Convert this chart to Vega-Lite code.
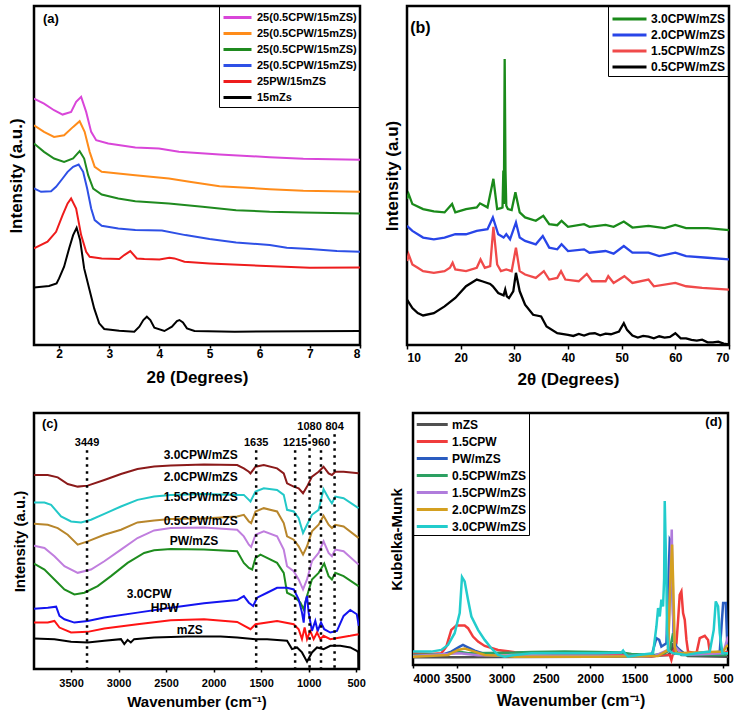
{
"$schema":"https://vega.github.io/schema/vega-lite/v6.json",
"padding":{"left":5,"top":4,"right":0,"bottom":0},
"background":"white",
"resolve":{"scale":{"color":"independent"},"legend":{"color":"independent"}},
"config":{
 "font":"Liberation Sans",
 "view":{"stroke":"#000","strokeWidth":2.5},
 "axis":{"domain":false,"grid":false,"labelFontWeight":"bold","titleFontWeight":"bold","labelColor":"#000","titleColor":"#000","tickColor":"#000","tickWidth":1.5,"labelFont":"Liberation Sans","titleFont":"Liberation Sans"},
 "legend":{"labelFontWeight":"bold","labelColor":"#000","strokeColor":"#000","symbolStrokeWidth":3,"labelFont":"Liberation Sans"}
},
"datasets":{
"a":[
{"s":"k","x":1.5,"y":173},{"s":"k","x":1.8,"y":177},{"s":"k","x":1.95,"y":185},{"s":"k","x":2.0,"y":200},{"s":"k","x":2.1,"y":235},{"s":"k","x":2.2,"y":290},{"s":"k","x":2.28,"y":330},{"s":"k","x":2.35,"y":352},{"s":"k","x":2.42,"y":315},{"s":"k","x":2.5,"y":230},{"s":"k","x":2.6,"y":170},{"s":"k","x":2.7,"y":110},{"s":"k","x":2.8,"y":65},{"s":"k","x":2.9,"y":48},{"s":"k","x":3.2,"y":43},{"s":"k","x":3.5,"y":40},{"s":"k","x":3.6,"y":55},{"s":"k","x":3.68,"y":75},{"s":"k","x":3.75,"y":85},{"s":"k","x":3.82,"y":75},{"s":"k","x":3.9,"y":52},{"s":"k","x":4.1,"y":42},{"s":"k","x":4.25,"y":55},{"s":"k","x":4.35,"y":72},{"s":"k","x":4.4,"y":75},{"s":"k","x":4.47,"y":68},{"s":"k","x":4.55,"y":50},{"s":"k","x":4.7,"y":42},{"s":"k","x":5.5,"y":40},{"s":"k","x":8.0,"y":42},
{"s":"r","x":1.5,"y":290},{"s":"r","x":1.77,"y":310},{"s":"r","x":1.94,"y":340},{"s":"r","x":2.07,"y":390},{"s":"r","x":2.17,"y":425},{"s":"r","x":2.24,"y":440},{"s":"r","x":2.34,"y":410},{"s":"r","x":2.44,"y":330},{"s":"r","x":2.54,"y":280},{"s":"r","x":2.61,"y":265},{"s":"r","x":2.85,"y":260},{"s":"r","x":3.2,"y":258},{"s":"r","x":3.3,"y":270},{"s":"r","x":3.42,"y":282},{"s":"r","x":3.55,"y":260},{"s":"r","x":3.7,"y":258},{"s":"r","x":4.0,"y":257},{"s":"r","x":4.2,"y":262},{"s":"r","x":4.3,"y":260},{"s":"r","x":4.5,"y":250},{"s":"r","x":5.0,"y":245},{"s":"r","x":6.0,"y":238},{"s":"r","x":7.0,"y":232},{"s":"r","x":8.0,"y":233},
{"s":"b","x":1.5,"y":470},{"s":"b","x":1.64,"y":460},{"s":"b","x":1.84,"y":462},{"s":"b","x":1.94,"y":475},{"s":"b","x":2.07,"y":500},{"s":"b","x":2.17,"y":520},{"s":"b","x":2.28,"y":535},{"s":"b","x":2.39,"y":542},{"s":"b","x":2.48,"y":520},{"s":"b","x":2.56,"y":470},{"s":"b","x":2.64,"y":410},{"s":"b","x":2.71,"y":375},{"s":"b","x":2.85,"y":358},{"s":"b","x":3.18,"y":350},{"s":"b","x":3.52,"y":345},{"s":"b","x":4.05,"y":344},{"s":"b","x":4.52,"y":330},{"s":"b","x":5.0,"y":318},{"s":"b","x":5.53,"y":308},{"s":"b","x":6.2,"y":300},{"s":"b","x":6.54,"y":292},{"s":"b","x":7.0,"y":288},{"s":"b","x":7.54,"y":282},{"s":"b","x":8.0,"y":280},
{"s":"g","x":1.5,"y":605},{"s":"g","x":1.7,"y":580},{"s":"g","x":1.9,"y":560},{"s":"g","x":2.1,"y":550},{"s":"g","x":2.28,"y":560},{"s":"g","x":2.41,"y":582},{"s":"g","x":2.5,"y":560},{"s":"g","x":2.58,"y":510},{"s":"g","x":2.68,"y":470},{"s":"g","x":2.85,"y":452},{"s":"g","x":3.18,"y":440},{"s":"g","x":3.52,"y":432},{"s":"g","x":4.19,"y":425},{"s":"g","x":4.86,"y":415},{"s":"g","x":5.53,"y":405},{"s":"g","x":6.2,"y":400},{"s":"g","x":6.87,"y":398},{"s":"g","x":8.0,"y":395},
{"s":"o","x":1.5,"y":660},{"s":"o","x":1.7,"y":640},{"s":"o","x":1.9,"y":625},{"s":"o","x":2.1,"y":630},{"s":"o","x":2.28,"y":655},{"s":"o","x":2.41,"y":672},{"s":"o","x":2.51,"y":640},{"s":"o","x":2.61,"y":580},{"s":"o","x":2.71,"y":535},{"s":"o","x":2.85,"y":520},{"s":"o","x":3.18,"y":515},{"s":"o","x":3.52,"y":510},{"s":"o","x":4.19,"y":500},{"s":"o","x":4.6,"y":490},{"s":"o","x":5.2,"y":477},{"s":"o","x":6.2,"y":468},{"s":"o","x":6.87,"y":463},{"s":"o","x":8.0,"y":460},
{"s":"m","x":1.5,"y":740},{"s":"m","x":1.7,"y":725},{"s":"m","x":1.9,"y":705},{"s":"m","x":2.07,"y":692},{"s":"m","x":2.24,"y":700},{"s":"m","x":2.34,"y":730},{"s":"m","x":2.44,"y":745},{"s":"m","x":2.54,"y":700},{"s":"m","x":2.64,"y":640},{"s":"m","x":2.74,"y":615},{"s":"m","x":2.98,"y":605},{"s":"m","x":3.52,"y":593},{"s":"m","x":3.99,"y":590},{"s":"m","x":4.39,"y":580},{"s":"m","x":5.2,"y":572},{"s":"m","x":6.2,"y":564},{"s":"m","x":6.87,"y":559},{"s":"m","x":8.0,"y":556}
],
"b":[
{"s":"0.5CPW/mZS","x":10,"y":135},{"s":"0.5CPW/mZS","x":11,"y":110},{"s":"0.5CPW/mZS","x":12,"y":95},{"s":"0.5CPW/mZS","x":13,"y":88},{"s":"0.5CPW/mZS","x":15,"y":95},{"s":"0.5CPW/mZS","x":17,"y":115},{"s":"0.5CPW/mZS","x":19,"y":140},{"s":"0.5CPW/mZS","x":21,"y":175},{"s":"0.5CPW/mZS","x":23,"y":195},{"s":"0.5CPW/mZS","x":24,"y":190},{"s":"0.5CPW/mZS","x":25.5,"y":182},{"s":"0.5CPW/mZS","x":26,"y":175},{"s":"0.5CPW/mZS","x":27,"y":155},{"s":"0.5CPW/mZS","x":28,"y":148},{"s":"0.5CPW/mZS","x":28.3,"y":165},{"s":"0.5CPW/mZS","x":28.6,"y":145},{"s":"0.5CPW/mZS","x":29,"y":140},{"s":"0.5CPW/mZS","x":29.8,"y":160},{"s":"0.5CPW/mZS","x":30.3,"y":215},{"s":"0.5CPW/mZS","x":31,"y":160},{"s":"0.5CPW/mZS","x":32,"y":120},{"s":"0.5CPW/mZS","x":33.5,"y":90},{"s":"0.5CPW/mZS","x":35,"y":85},{"s":"0.5CPW/mZS","x":36,"y":55},{"s":"0.5CPW/mZS","x":38,"y":35},{"s":"0.5CPW/mZS","x":40,"y":30},{"s":"0.5CPW/mZS","x":41,"y":27},{"s":"0.5CPW/mZS","x":42,"y":33},{"s":"0.5CPW/mZS","x":43,"y":28},{"s":"0.5CPW/mZS","x":44,"y":34},{"s":"0.5CPW/mZS","x":45,"y":35},{"s":"0.5CPW/mZS","x":46,"y":29},{"s":"0.5CPW/mZS","x":47,"y":34},{"s":"0.5CPW/mZS","x":48,"y":32},{"s":"0.5CPW/mZS","x":49.5,"y":40},{"s":"0.5CPW/mZS","x":50.4,"y":65},{"s":"0.5CPW/mZS","x":51,"y":45},{"s":"0.5CPW/mZS","x":52,"y":28},{"s":"0.5CPW/mZS","x":53,"y":22},{"s":"0.5CPW/mZS","x":54,"y":27},{"s":"0.5CPW/mZS","x":55,"y":25},{"s":"0.5CPW/mZS","x":56,"y":20},{"s":"0.5CPW/mZS","x":57,"y":26},{"s":"0.5CPW/mZS","x":58,"y":22},{"s":"0.5CPW/mZS","x":59,"y":24},{"s":"0.5CPW/mZS","x":60,"y":35},{"s":"0.5CPW/mZS","x":61,"y":20},{"s":"0.5CPW/mZS","x":62,"y":20},{"s":"0.5CPW/mZS","x":63,"y":15},{"s":"0.5CPW/mZS","x":64,"y":13},{"s":"0.5CPW/mZS","x":65,"y":16},{"s":"0.5CPW/mZS","x":66,"y":8},{"s":"0.5CPW/mZS","x":67,"y":8},{"s":"0.5CPW/mZS","x":68,"y":10},{"s":"0.5CPW/mZS","x":69,"y":4},{"s":"0.5CPW/mZS","x":70,"y":2},
{"s":"1.5CPW/mZS","x":10,"y":250},{"s":"1.5CPW/mZS","x":10.3,"y":270},{"s":"1.5CPW/mZS","x":11,"y":240},{"s":"1.5CPW/mZS","x":12,"y":230},{"s":"1.5CPW/mZS","x":13,"y":220},{"s":"1.5CPW/mZS","x":15,"y":215},{"s":"1.5CPW/mZS","x":17,"y":220},{"s":"1.5CPW/mZS","x":18,"y":230},{"s":"1.5CPW/mZS","x":18.5,"y":245},{"s":"1.5CPW/mZS","x":19,"y":225},{"s":"1.5CPW/mZS","x":21,"y":220},{"s":"1.5CPW/mZS","x":23,"y":230},{"s":"1.5CPW/mZS","x":23.7,"y":255},{"s":"1.5CPW/mZS","x":24.5,"y":230},{"s":"1.5CPW/mZS","x":25.5,"y":235},{"s":"1.5CPW/mZS","x":26.1,"y":352},{"s":"1.5CPW/mZS","x":26.8,"y":240},{"s":"1.5CPW/mZS","x":27.5,"y":220},{"s":"1.5CPW/mZS","x":28.5,"y":225},{"s":"1.5CPW/mZS","x":29.5,"y":220},{"s":"1.5CPW/mZS","x":30.3,"y":290},{"s":"1.5CPW/mZS","x":31,"y":220},{"s":"1.5CPW/mZS","x":32,"y":210},{"s":"1.5CPW/mZS","x":34,"y":200},{"s":"1.5CPW/mZS","x":35.5,"y":220},{"s":"1.5CPW/mZS","x":36.5,"y":195},{"s":"1.5CPW/mZS","x":38,"y":200},{"s":"1.5CPW/mZS","x":38.7,"y":220},{"s":"1.5CPW/mZS","x":39.5,"y":195},{"s":"1.5CPW/mZS","x":42,"y":190},{"s":"1.5CPW/mZS","x":43.5,"y":212},{"s":"1.5CPW/mZS","x":44.5,"y":190},{"s":"1.5CPW/mZS","x":47,"y":190},{"s":"1.5CPW/mZS","x":47.5,"y":205},{"s":"1.5CPW/mZS","x":48.5,"y":185},{"s":"1.5CPW/mZS","x":50.5,"y":205},{"s":"1.5CPW/mZS","x":52,"y":185},{"s":"1.5CPW/mZS","x":55,"y":195},{"s":"1.5CPW/mZS","x":56,"y":175},{"s":"1.5CPW/mZS","x":60,"y":185},{"s":"1.5CPW/mZS","x":62,"y":175},{"s":"1.5CPW/mZS","x":65,"y":170},{"s":"1.5CPW/mZS","x":70,"y":165},
{"s":"2.0CPW/mZS","x":10,"y":355},{"s":"2.0CPW/mZS","x":11,"y":340},{"s":"2.0CPW/mZS","x":13,"y":320},{"s":"2.0CPW/mZS","x":15,"y":315},{"s":"2.0CPW/mZS","x":17,"y":320},{"s":"2.0CPW/mZS","x":19,"y":330},{"s":"2.0CPW/mZS","x":21,"y":330},{"s":"2.0CPW/mZS","x":23,"y":340},{"s":"2.0CPW/mZS","x":25,"y":345},{"s":"2.0CPW/mZS","x":26,"y":380},{"s":"2.0CPW/mZS","x":27,"y":330},{"s":"2.0CPW/mZS","x":28,"y":320},{"s":"2.0CPW/mZS","x":28.5,"y":330},{"s":"2.0CPW/mZS","x":29.2,"y":315},{"s":"2.0CPW/mZS","x":30.3,"y":365},{"s":"2.0CPW/mZS","x":31,"y":320},{"s":"2.0CPW/mZS","x":32,"y":310},{"s":"2.0CPW/mZS","x":34,"y":300},{"s":"2.0CPW/mZS","x":35.3,"y":325},{"s":"2.0CPW/mZS","x":36.5,"y":290},{"s":"2.0CPW/mZS","x":38,"y":285},{"s":"2.0CPW/mZS","x":38.8,"y":300},{"s":"2.0CPW/mZS","x":40,"y":280},{"s":"2.0CPW/mZS","x":43,"y":285},{"s":"2.0CPW/mZS","x":44,"y":275},{"s":"2.0CPW/mZS","x":47,"y":280},{"s":"2.0CPW/mZS","x":48.5,"y":272},{"s":"2.0CPW/mZS","x":50.4,"y":295},{"s":"2.0CPW/mZS","x":52,"y":275},{"s":"2.0CPW/mZS","x":55,"y":275},{"s":"2.0CPW/mZS","x":57,"y":265},{"s":"2.0CPW/mZS","x":60,"y":275},{"s":"2.0CPW/mZS","x":62,"y":265},{"s":"2.0CPW/mZS","x":66,"y":260},{"s":"2.0CPW/mZS","x":70,"y":255},
{"s":"3.0CPW/mZS","x":10,"y":435},{"s":"3.0CPW/mZS","x":10.3,"y":450},{"s":"3.0CPW/mZS","x":11,"y":420},{"s":"3.0CPW/mZS","x":13,"y":405},{"s":"3.0CPW/mZS","x":15,"y":398},{"s":"3.0CPW/mZS","x":17,"y":395},{"s":"3.0CPW/mZS","x":18.4,"y":420},{"s":"3.0CPW/mZS","x":19,"y":395},{"s":"3.0CPW/mZS","x":21,"y":405},{"s":"3.0CPW/mZS","x":23,"y":410},{"s":"3.0CPW/mZS","x":23.6,"y":422},{"s":"3.0CPW/mZS","x":25,"y":410},{"s":"3.0CPW/mZS","x":26.1,"y":495},{"s":"3.0CPW/mZS","x":26.8,"y":405},{"s":"3.0CPW/mZS","x":27.5,"y":408},{"s":"3.0CPW/mZS","x":27.8,"y":410},{"s":"3.0CPW/mZS","x":27.95,"y":520},{"s":"3.0CPW/mZS","x":28.05,"y":420},{"s":"3.0CPW/mZS","x":28.2,"y":852},{"s":"3.0CPW/mZS","x":28.35,"y":520},{"s":"3.0CPW/mZS","x":28.5,"y":415},{"s":"3.0CPW/mZS","x":28.8,"y":405},{"s":"3.0CPW/mZS","x":29.5,"y":402},{"s":"3.0CPW/mZS","x":30.2,"y":455},{"s":"3.0CPW/mZS","x":31,"y":395},{"s":"3.0CPW/mZS","x":32,"y":380},{"s":"3.0CPW/mZS","x":34,"y":370},{"s":"3.0CPW/mZS","x":35.4,"y":385},{"s":"3.0CPW/mZS","x":36.5,"y":360},{"s":"3.0CPW/mZS","x":38,"y":357},{"s":"3.0CPW/mZS","x":38.8,"y":370},{"s":"3.0CPW/mZS","x":40,"y":352},{"s":"3.0CPW/mZS","x":43,"y":360},{"s":"3.0CPW/mZS","x":44,"y":352},{"s":"3.0CPW/mZS","x":47,"y":358},{"s":"3.0CPW/mZS","x":48.5,"y":352},{"s":"3.0CPW/mZS","x":50.4,"y":368},{"s":"3.0CPW/mZS","x":52,"y":350},{"s":"3.0CPW/mZS","x":55,"y":355},{"s":"3.0CPW/mZS","x":58,"y":348},{"s":"3.0CPW/mZS","x":60,"y":358},{"s":"3.0CPW/mZS","x":62,"y":348},{"s":"3.0CPW/mZS","x":66,"y":348},{"s":"3.0CPW/mZS","x":70,"y":342}
],
"c":[
{"s":"3.0CPW/mZS","x":3890,"y":585},{"s":"3.0CPW/mZS","x":3745,"y":585},{"s":"3.0CPW/mZS","x":3640,"y":578},{"s":"3.0CPW/mZS","x":3535,"y":558},{"s":"3.0CPW/mZS","x":3430,"y":550},{"s":"3.0CPW/mZS","x":3325,"y":553},{"s":"3.0CPW/mZS","x":3150,"y":570},{"s":"3.0CPW/mZS","x":2975,"y":588},{"s":"3.0CPW/mZS","x":2801,"y":603},{"s":"3.0CPW/mZS","x":2626,"y":611},{"s":"3.0CPW/mZS","x":2451,"y":614},{"s":"3.0CPW/mZS","x":2101,"y":617},{"s":"3.0CPW/mZS","x":1752,"y":615},{"s":"3.0CPW/mZS","x":1682,"y":605},{"s":"3.0CPW/mZS","x":1629,"y":595},{"s":"3.0CPW/mZS","x":1612,"y":590},{"s":"3.0CPW/mZS","x":1559,"y":610},{"s":"3.0CPW/mZS","x":1472,"y":615},{"s":"3.0CPW/mZS","x":1332,"y":605},{"s":"3.0CPW/mZS","x":1262,"y":590},{"s":"3.0CPW/mZS","x":1227,"y":560},{"s":"3.0CPW/mZS","x":1157,"y":550},{"s":"3.0CPW/mZS","x":1105,"y":545},{"s":"3.0CPW/mZS","x":1059,"y":530},{"s":"3.0CPW/mZS","x":1017,"y":550},{"s":"3.0CPW/mZS","x":965,"y":580},{"s":"3.0CPW/mZS","x":895,"y":595},{"s":"3.0CPW/mZS","x":843,"y":610},{"s":"3.0CPW/mZS","x":790,"y":590},{"s":"3.0CPW/mZS","x":755,"y":585},{"s":"3.0CPW/mZS","x":720,"y":595},{"s":"3.0CPW/mZS","x":632,"y":595},{"s":"3.0CPW/mZS","x":475,"y":590},
{"s":"2.0CPW/mZS","x":3890,"y":502},{"s":"2.0CPW/mZS","x":3780,"y":502},{"s":"2.0CPW/mZS","x":3710,"y":495},{"s":"2.0CPW/mZS","x":3605,"y":460},{"s":"2.0CPW/mZS","x":3500,"y":445},{"s":"2.0CPW/mZS","x":3395,"y":442},{"s":"2.0CPW/mZS","x":3290,"y":450},{"s":"2.0CPW/mZS","x":3150,"y":468},{"s":"2.0CPW/mZS","x":2975,"y":490},{"s":"2.0CPW/mZS","x":2801,"y":510},{"s":"2.0CPW/mZS","x":2626,"y":520},{"s":"2.0CPW/mZS","x":2451,"y":525},{"s":"2.0CPW/mZS","x":2101,"y":528},{"s":"2.0CPW/mZS","x":1752,"y":525},{"s":"2.0CPW/mZS","x":1682,"y":525},{"s":"2.0CPW/mZS","x":1629,"y":510},{"s":"2.0CPW/mZS","x":1612,"y":505},{"s":"2.0CPW/mZS","x":1559,"y":535},{"s":"2.0CPW/mZS","x":1472,"y":545},{"s":"2.0CPW/mZS","x":1332,"y":540},{"s":"2.0CPW/mZS","x":1262,"y":525},{"s":"2.0CPW/mZS","x":1227,"y":480},{"s":"2.0CPW/mZS","x":1157,"y":475},{"s":"2.0CPW/mZS","x":1105,"y":455},{"s":"2.0CPW/mZS","x":1059,"y":410},{"s":"2.0CPW/mZS","x":1017,"y":435},{"s":"2.0CPW/mZS","x":965,"y":465},{"s":"2.0CPW/mZS","x":895,"y":480},{"s":"2.0CPW/mZS","x":843,"y":542},{"s":"2.0CPW/mZS","x":790,"y":515},{"s":"2.0CPW/mZS","x":755,"y":500},{"s":"2.0CPW/mZS","x":720,"y":520},{"s":"2.0CPW/mZS","x":632,"y":515},{"s":"2.0CPW/mZS","x":475,"y":485},
{"s":"1.5CPW/mZS","x":3890,"y":438},{"s":"1.5CPW/mZS","x":3745,"y":435},{"s":"1.5CPW/mZS","x":3640,"y":425},{"s":"1.5CPW/mZS","x":3535,"y":405},{"s":"1.5CPW/mZS","x":3430,"y":375},{"s":"1.5CPW/mZS","x":3325,"y":385},{"s":"1.5CPW/mZS","x":3150,"y":405},{"s":"1.5CPW/mZS","x":2975,"y":420},{"s":"1.5CPW/mZS","x":2801,"y":442},{"s":"1.5CPW/mZS","x":2626,"y":448},{"s":"1.5CPW/mZS","x":2451,"y":452},{"s":"1.5CPW/mZS","x":2101,"y":454},{"s":"1.5CPW/mZS","x":1752,"y":460},{"s":"1.5CPW/mZS","x":1682,"y":465},{"s":"1.5CPW/mZS","x":1629,"y":445},{"s":"1.5CPW/mZS","x":1605,"y":440},{"s":"1.5CPW/mZS","x":1559,"y":475},{"s":"1.5CPW/mZS","x":1472,"y":485},{"s":"1.5CPW/mZS","x":1332,"y":475},{"s":"1.5CPW/mZS","x":1262,"y":440},{"s":"1.5CPW/mZS","x":1227,"y":400},{"s":"1.5CPW/mZS","x":1157,"y":390},{"s":"1.5CPW/mZS","x":1105,"y":370},{"s":"1.5CPW/mZS","x":1059,"y":345},{"s":"1.5CPW/mZS","x":1017,"y":370},{"s":"1.5CPW/mZS","x":965,"y":415},{"s":"1.5CPW/mZS","x":895,"y":435},{"s":"1.5CPW/mZS","x":843,"y":462},{"s":"1.5CPW/mZS","x":790,"y":435},{"s":"1.5CPW/mZS","x":755,"y":425},{"s":"1.5CPW/mZS","x":720,"y":435},{"s":"1.5CPW/mZS","x":632,"y":430},{"s":"1.5CPW/mZS","x":475,"y":395},
{"s":"0.5CPW/mZS","x":3890,"y":372},{"s":"0.5CPW/mZS","x":3780,"y":365},{"s":"0.5CPW/mZS","x":3675,"y":340},{"s":"0.5CPW/mZS","x":3570,"y":310},{"s":"0.5CPW/mZS","x":3430,"y":290},{"s":"0.5CPW/mZS","x":3290,"y":300},{"s":"0.5CPW/mZS","x":3150,"y":325},{"s":"0.5CPW/mZS","x":2975,"y":360},{"s":"0.5CPW/mZS","x":2801,"y":395},{"s":"0.5CPW/mZS","x":2626,"y":418},{"s":"0.5CPW/mZS","x":2451,"y":425},{"s":"0.5CPW/mZS","x":2101,"y":427},{"s":"0.5CPW/mZS","x":1752,"y":420},{"s":"0.5CPW/mZS","x":1682,"y":400},{"s":"0.5CPW/mZS","x":1629,"y":375},{"s":"0.5CPW/mZS","x":1605,"y":368},{"s":"0.5CPW/mZS","x":1559,"y":405},{"s":"0.5CPW/mZS","x":1472,"y":415},{"s":"0.5CPW/mZS","x":1332,"y":400},{"s":"0.5CPW/mZS","x":1262,"y":360},{"s":"0.5CPW/mZS","x":1227,"y":310},{"s":"0.5CPW/mZS","x":1157,"y":295},{"s":"0.5CPW/mZS","x":1105,"y":270},{"s":"0.5CPW/mZS","x":1059,"y":240},{"s":"0.5CPW/mZS","x":1017,"y":270},{"s":"0.5CPW/mZS","x":965,"y":325},{"s":"0.5CPW/mZS","x":895,"y":350},{"s":"0.5CPW/mZS","x":843,"y":385},{"s":"0.5CPW/mZS","x":790,"y":350},{"s":"0.5CPW/mZS","x":755,"y":340},{"s":"0.5CPW/mZS","x":720,"y":360},{"s":"0.5CPW/mZS","x":632,"y":355},{"s":"0.5CPW/mZS","x":475,"y":315},
{"s":"PW/mZS","x":3890,"y":318},{"s":"PW/mZS","x":3780,"y":300},{"s":"PW/mZS","x":3675,"y":270},{"s":"PW/mZS","x":3570,"y":240},{"s":"PW/mZS","x":3465,"y":225},{"s":"PW/mZS","x":3360,"y":230},{"s":"PW/mZS","x":3220,"y":250},{"s":"PW/mZS","x":3080,"y":280},{"s":"PW/mZS","x":2905,"y":320},{"s":"PW/mZS","x":2731,"y":350},{"s":"PW/mZS","x":2626,"y":358},{"s":"PW/mZS","x":2451,"y":362},{"s":"PW/mZS","x":2101,"y":360},{"s":"PW/mZS","x":1752,"y":355},{"s":"PW/mZS","x":1682,"y":320},{"s":"PW/mZS","x":1629,"y":305},{"s":"PW/mZS","x":1594,"y":300},{"s":"PW/mZS","x":1559,"y":335},{"s":"PW/mZS","x":1507,"y":345},{"s":"PW/mZS","x":1332,"y":320},{"s":"PW/mZS","x":1262,"y":290},{"s":"PW/mZS","x":1227,"y":230},{"s":"PW/mZS","x":1157,"y":220},{"s":"PW/mZS","x":1087,"y":200},{"s":"PW/mZS","x":1052,"y":180},{"s":"PW/mZS","x":1017,"y":220},{"s":"PW/mZS","x":965,"y":270},{"s":"PW/mZS","x":895,"y":290},{"s":"PW/mZS","x":836,"y":318},{"s":"PW/mZS","x":790,"y":280},{"s":"PW/mZS","x":755,"y":270},{"s":"PW/mZS","x":720,"y":290},{"s":"PW/mZS","x":632,"y":280},{"s":"PW/mZS","x":475,"y":250},
{"s":"3.0CPW","x":3890,"y":182},{"s":"3.0CPW","x":3745,"y":185},{"s":"3.0CPW","x":3657,"y":188},{"s":"3.0CPW","x":3622,"y":160},{"s":"3.0CPW","x":3570,"y":150},{"s":"3.0CPW","x":3465,"y":140},{"s":"3.0CPW","x":3325,"y":145},{"s":"3.0CPW","x":3150,"y":155},{"s":"3.0CPW","x":2801,"y":170},{"s":"3.0CPW","x":2451,"y":185},{"s":"3.0CPW","x":2101,"y":198},{"s":"3.0CPW","x":1752,"y":208},{"s":"3.0CPW","x":1682,"y":220},{"s":"3.0CPW","x":1629,"y":200},{"s":"3.0CPW","x":1584,"y":190},{"s":"3.0CPW","x":1542,"y":215},{"s":"3.0CPW","x":1437,"y":230},{"s":"3.0CPW","x":1332,"y":245},{"s":"3.0CPW","x":1227,"y":245},{"s":"3.0CPW","x":1157,"y":240},{"s":"3.0CPW","x":1105,"y":210},{"s":"3.0CPW","x":1070,"y":170},{"s":"3.0CPW","x":1052,"y":140},{"s":"3.0CPW","x":1035,"y":200},{"s":"3.0CPW","x":1017,"y":220},{"s":"3.0CPW","x":1000,"y":170},{"s":"3.0CPW","x":965,"y":115},{"s":"3.0CPW","x":930,"y":145},{"s":"3.0CPW","x":905,"y":115},{"s":"3.0CPW","x":870,"y":140},{"s":"3.0CPW","x":836,"y":120},{"s":"3.0CPW","x":772,"y":110},{"s":"3.0CPW","x":702,"y":115},{"s":"3.0CPW","x":632,"y":160},{"s":"3.0CPW","x":562,"y":178},{"s":"3.0CPW","x":493,"y":165},{"s":"3.0CPW","x":472,"y":130},
{"s":"HPW","x":3890,"y":140},{"s":"HPW","x":3745,"y":140},{"s":"HPW","x":3675,"y":145},{"s":"HPW","x":3622,"y":125},{"s":"HPW","x":3500,"y":110},{"s":"HPW","x":3325,"y":112},{"s":"HPW","x":3150,"y":122},{"s":"HPW","x":2801,"y":135},{"s":"HPW","x":2451,"y":147},{"s":"HPW","x":2101,"y":150},{"s":"HPW","x":1752,"y":142},{"s":"HPW","x":1612,"y":120},{"s":"HPW","x":1559,"y":135},{"s":"HPW","x":1332,"y":145},{"s":"HPW","x":1157,"y":135},{"s":"HPW","x":1105,"y":120},{"s":"HPW","x":1070,"y":90},{"s":"HPW","x":1042,"y":125},{"s":"HPW","x":1017,"y":90},{"s":"HPW","x":983,"y":115},{"s":"HPW","x":947,"y":90},{"s":"HPW","x":912,"y":110},{"s":"HPW","x":877,"y":90},{"s":"HPW","x":843,"y":100},{"s":"HPW","x":772,"y":90},{"s":"HPW","x":667,"y":95},{"s":"HPW","x":562,"y":100},{"s":"HPW","x":475,"y":105},
{"s":"mZS","x":3890,"y":92},{"s":"mZS","x":3675,"y":90},{"s":"mZS","x":3500,"y":82},{"s":"mZS","x":3325,"y":80},{"s":"mZS","x":3150,"y":85},{"s":"mZS","x":2975,"y":90},{"s":"mZS","x":2940,"y":75},{"s":"mZS","x":2905,"y":88},{"s":"mZS","x":2871,"y":80},{"s":"mZS","x":2836,"y":90},{"s":"mZS","x":2626,"y":95},{"s":"mZS","x":2276,"y":98},{"s":"mZS","x":1926,"y":98},{"s":"mZS","x":1752,"y":95},{"s":"mZS","x":1559,"y":90},{"s":"mZS","x":1437,"y":90},{"s":"mZS","x":1227,"y":85},{"s":"mZS","x":1175,"y":60},{"s":"mZS","x":1122,"y":65},{"s":"mZS","x":1070,"y":50},{"s":"mZS","x":1017,"y":22},{"s":"mZS","x":965,"y":50},{"s":"mZS","x":912,"y":65},{"s":"mZS","x":843,"y":60},{"s":"mZS","x":772,"y":70},{"s":"mZS","x":667,"y":70},{"s":"mZS","x":562,"y":65},{"s":"mZS","x":493,"y":55},{"s":"mZS","x":478,"y":50},{"s":"mZS","x":476,"y":0}
],
"cl":[
{"x":2136,"y":645,"t":"3.0CPW/mZS"},{"x":2136,"y":578,"t":"2.0CPW/mZS"},{"x":2136,"y":518,"t":"1.5CPW/mZS"},{"x":2136,"y":445,"t":"0.5CPW/mZS"},{"x":2206,"y":385,"t":"PW/mZS"},{"x":2678,"y":225,"t":"3.0CPW"},{"x":2514,"y":185,"t":"HPW"},{"x":2251,"y":118,"t":"mZS"}
],
"cp":[
{"x":3332,"top":660,"ly":681,"t":"3449"},{"x":1552,"top":660,"ly":681,"t":"1635"},{"x":1142,"top":660,"ly":681,"t":"1215"},{"x":990,"top":708,"ly":729,"t":"1080"},{"x":870,"top":660,"ly":681,"t":"960"},{"x":727,"top":708,"ly":729,"t":"804"}
],
"d":[
{"s":"mZS","x":4000,"y":23},{"s":"mZS","x":3500,"y":23},{"s":"mZS","x":3000,"y":24},{"s":"mZS","x":2000,"y":25},{"s":"mZS","x":1300,"y":27},{"s":"mZS","x":1121,"y":30},{"s":"mZS","x":1085,"y":40},{"s":"mZS","x":1065,"y":65},{"s":"mZS","x":1046,"y":35},{"s":"mZS","x":990,"y":45},{"s":"mZS","x":900,"y":27},{"s":"mZS","x":445,"y":25},
{"s":"1.5CPW","x":4000,"y":35},{"s":"1.5CPW","x":3793,"y":33},{"s":"1.5CPW","x":3680,"y":35},{"s":"1.5CPW","x":3624,"y":55},{"s":"1.5CPW","x":3568,"y":105},{"s":"1.5CPW","x":3511,"y":118},{"s":"1.5CPW","x":3417,"y":118},{"s":"1.5CPW","x":3379,"y":110},{"s":"1.5CPW","x":3323,"y":85},{"s":"1.5CPW","x":3266,"y":70},{"s":"1.5CPW","x":3191,"y":57},{"s":"1.5CPW","x":3040,"y":45},{"s":"1.5CPW","x":2852,"y":38},{"s":"1.5CPW","x":2664,"y":35},{"s":"1.5CPW","x":2288,"y":33},{"s":"1.5CPW","x":1912,"y":32},{"s":"1.5CPW","x":1535,"y":30},{"s":"1.5CPW","x":1309,"y":25},{"s":"1.5CPW","x":1215,"y":30},{"s":"1.5CPW","x":1102,"y":30},{"s":"1.5CPW","x":1084,"y":15},{"s":"1.5CPW","x":1065,"y":35},{"s":"1.5CPW","x":1027,"y":65},{"s":"1.5CPW","x":1008,"y":135},{"s":"1.5CPW","x":990,"y":210},{"s":"1.5CPW","x":971,"y":220},{"s":"1.5CPW","x":952,"y":155},{"s":"1.5CPW","x":933,"y":135},{"s":"1.5CPW","x":914,"y":75},{"s":"1.5CPW","x":896,"y":40},{"s":"1.5CPW","x":801,"y":35},{"s":"1.5CPW","x":764,"y":80},{"s":"1.5CPW","x":707,"y":87},{"s":"1.5CPW","x":670,"y":75},{"s":"1.5CPW","x":651,"y":40},{"s":"1.5CPW","x":576,"y":33},{"s":"1.5CPW","x":500,"y":35},{"s":"1.5CPW","x":445,"y":40},
{"s":"PW/mZS","x":4000,"y":27},{"s":"PW/mZS","x":3680,"y":30},{"s":"PW/mZS","x":3568,"y":40},{"s":"PW/mZS","x":3473,"y":55},{"s":"PW/mZS","x":3436,"y":60},{"s":"PW/mZS","x":3398,"y":55},{"s":"PW/mZS","x":3304,"y":43},{"s":"PW/mZS","x":3191,"y":33},{"s":"PW/mZS","x":3040,"y":27},{"s":"PW/mZS","x":1912,"y":25},{"s":"PW/mZS","x":1309,"y":27},{"s":"PW/mZS","x":1253,"y":80},{"s":"PW/mZS","x":1222,"y":75},{"s":"PW/mZS","x":1197,"y":55},{"s":"PW/mZS","x":1140,"y":65},{"s":"PW/mZS","x":1102,"y":375},{"s":"PW/mZS","x":1091,"y":370},{"s":"PW/mZS","x":1076,"y":255},{"s":"PW/mZS","x":1057,"y":75},{"s":"PW/mZS","x":1027,"y":55},{"s":"PW/mZS","x":952,"y":35},{"s":"PW/mZS","x":651,"y":35},{"s":"PW/mZS","x":538,"y":40},{"s":"PW/mZS","x":500,"y":185},{"s":"PW/mZS","x":470,"y":185},{"s":"PW/mZS","x":455,"y":75},{"s":"PW/mZS","x":445,"y":55},
{"s":"0.5CPW/mZS","x":4000,"y":30},{"s":"0.5CPW/mZS","x":3605,"y":33},{"s":"0.5CPW/mZS","x":3492,"y":40},{"s":"0.5CPW/mZS","x":3379,"y":35},{"s":"0.5CPW/mZS","x":2852,"y":37},{"s":"0.5CPW/mZS","x":2664,"y":39},{"s":"0.5CPW/mZS","x":2288,"y":40},{"s":"0.5CPW/mZS","x":1912,"y":39},{"s":"0.5CPW/mZS","x":1648,"y":37},{"s":"0.5CPW/mZS","x":1535,"y":33},{"s":"0.5CPW/mZS","x":1272,"y":30},{"s":"0.5CPW/mZS","x":1159,"y":35},{"s":"0.5CPW/mZS","x":1102,"y":45},{"s":"0.5CPW/mZS","x":1065,"y":95},{"s":"0.5CPW/mZS","x":1046,"y":55},{"s":"0.5CPW/mZS","x":971,"y":30},{"s":"0.5CPW/mZS","x":482,"y":30},{"s":"0.5CPW/mZS","x":445,"y":35},
{"s":"1.5CPW/mZS","x":4000,"y":27},{"s":"1.5CPW/mZS","x":3473,"y":35},{"s":"1.5CPW/mZS","x":3266,"y":29},{"s":"1.5CPW/mZS","x":1272,"y":27},{"s":"1.5CPW/mZS","x":1121,"y":45},{"s":"1.5CPW/mZS","x":1102,"y":200},{"s":"1.5CPW/mZS","x":1080,"y":405},{"s":"1.5CPW/mZS","x":1065,"y":155},{"s":"1.5CPW/mZS","x":1046,"y":55},{"s":"1.5CPW/mZS","x":952,"y":30},{"s":"1.5CPW/mZS","x":500,"y":35},{"s":"1.5CPW/mZS","x":445,"y":85},
{"s":"2.0CPW/mZS","x":4000,"y":25},{"s":"2.0CPW/mZS","x":3605,"y":30},{"s":"2.0CPW/mZS","x":3492,"y":45},{"s":"2.0CPW/mZS","x":3417,"y":49},{"s":"2.0CPW/mZS","x":3341,"y":43},{"s":"2.0CPW/mZS","x":3191,"y":30},{"s":"2.0CPW/mZS","x":2852,"y":25},{"s":"2.0CPW/mZS","x":1912,"y":25},{"s":"2.0CPW/mZS","x":1234,"y":27},{"s":"2.0CPW/mZS","x":1121,"y":45},{"s":"2.0CPW/mZS","x":1095,"y":255},{"s":"2.0CPW/mZS","x":1076,"y":360},{"s":"2.0CPW/mZS","x":1062,"y":230},{"s":"2.0CPW/mZS","x":1046,"y":55},{"s":"2.0CPW/mZS","x":1027,"y":35},{"s":"2.0CPW/mZS","x":500,"y":40},{"s":"2.0CPW/mZS","x":463,"y":55},{"s":"2.0CPW/mZS","x":445,"y":60},
{"s":"3.0CPW/mZS","x":4000,"y":40},{"s":"3.0CPW/mZS","x":3793,"y":40},{"s":"3.0CPW/mZS","x":3680,"y":45},{"s":"3.0CPW/mZS","x":3605,"y":60},{"s":"3.0CPW/mZS","x":3530,"y":95},{"s":"3.0CPW/mZS","x":3473,"y":155},{"s":"3.0CPW/mZS","x":3447,"y":263},{"s":"3.0CPW/mZS","x":3417,"y":250},{"s":"3.0CPW/mZS","x":3379,"y":195},{"s":"3.0CPW/mZS","x":3341,"y":145},{"s":"3.0CPW/mZS","x":3266,"y":105},{"s":"3.0CPW/mZS","x":3191,"y":75},{"s":"3.0CPW/mZS","x":3116,"y":50},{"s":"3.0CPW/mZS","x":3040,"y":30},{"s":"3.0CPW/mZS","x":2965,"y":25},{"s":"3.0CPW/mZS","x":2852,"y":30},{"s":"3.0CPW/mZS","x":2664,"y":35},{"s":"3.0CPW/mZS","x":2288,"y":35},{"s":"3.0CPW/mZS","x":1912,"y":35},{"s":"3.0CPW/mZS","x":1648,"y":37},{"s":"3.0CPW/mZS","x":1629,"y":43},{"s":"3.0CPW/mZS","x":1610,"y":35},{"s":"3.0CPW/mZS","x":1573,"y":25},{"s":"3.0CPW/mZS","x":1460,"y":30},{"s":"3.0CPW/mZS","x":1291,"y":35},{"s":"3.0CPW/mZS","x":1253,"y":115},{"s":"3.0CPW/mZS","x":1234,"y":170},{"s":"3.0CPW/mZS","x":1215,"y":145},{"s":"3.0CPW/mZS","x":1197,"y":195},{"s":"3.0CPW/mZS","x":1178,"y":175},{"s":"3.0CPW/mZS","x":1166,"y":255},{"s":"3.0CPW/mZS","x":1159,"y":490},{"s":"3.0CPW/mZS","x":1140,"y":255},{"s":"3.0CPW/mZS","x":1133,"y":105},{"s":"3.0CPW/mZS","x":1121,"y":45},{"s":"3.0CPW/mZS","x":1065,"y":35},{"s":"3.0CPW/mZS","x":914,"y":30},{"s":"3.0CPW/mZS","x":801,"y":35},{"s":"3.0CPW/mZS","x":651,"y":40},{"s":"3.0CPW/mZS","x":606,"y":105},{"s":"3.0CPW/mZS","x":583,"y":190},{"s":"3.0CPW/mZS","x":557,"y":175},{"s":"3.0CPW/mZS","x":538,"y":95},{"s":"3.0CPW/mZS","x":508,"y":35},{"s":"3.0CPW/mZS","x":445,"y":35}
]
},
"vconcat":[
{"resolve":{"scale":{"color":"independent"},"legend":{"color":"independent"}},
 "hconcat":[
 {"width":326,"height":339,
  "layer":[
   {"data":{"name":"a"},"mark":{"type":"line","strokeWidth":2,"clip":true},
    "encoding":{
     "x":{"field":"x","type":"quantitative","scale":{"domain":[1.5,8],"nice":false,"zero":false},
      "axis":{"title":"2θ (Degrees)","values":[2,2.5,3,3.5,4,4.5,5,5.5,6,6.5,7,7.5,8],"labelExpr":"datum.value % 1 === 0 ? datum.label : ''","labelFontSize":12,"titleFontSize":17,"tickSize":3,"labelPadding":0,"titlePadding":10}},
     "y":{"field":"y","type":"quantitative","scale":{"domain":[0,1018],"nice":false,"zero":false},
      "axis":{"title":"Intensity (a.u.)","labels":false,"ticks":false,"titleFontSize":17,"titlePadding":9}},
     "color":{"field":"s","type":"nominal","scale":{"domain":["m","o","g","b","r","k"],"range":["#d946d9","#ff8c1a","#1f8a1f","#2e50e6","#ee1c1c","#000000"]},
      "legend":{"title":null,"orient":"top-right","offset":0,"padding":3,"symbolType":"M-1,0H3","symbolSize":196,"labelFontSize":11,"labelOffset":18,"rowPadding":1,
       "labelExpr":"datum.label === 'r' ? '25PW/15mZS' : datum.label === 'k' ? '15mZs' : '25(0.5CPW/15mZS)'"}}
    }},
   {"data":{"values":[{"x":1.68,"y":978,"t":"(a)"}]},"mark":{"type":"text","align":"left","baseline":"middle","fontSize":13,"fontWeight":"bold","color":"#000"},
    "encoding":{"x":{"field":"x","type":"quantitative"},"y":{"field":"y","type":"quantitative"},"text":{"field":"t"}}}
  ]},
 {"width":322,"height":339,
  "layer":[
   {"data":{"name":"b"},"mark":{"type":"line","strokeWidth":2.3,"clip":true},
    "encoding":{
     "x":{"field":"x","type":"quantitative","scale":{"domain":[10,70],"nice":false,"zero":false},
      "axis":{"title":"2θ (Degrees)","values":[10,12.5,15,17.5,20,22.5,25,27.5,30,32.5,35,37.5,40,42.5,45,47.5,50,52.5,55,57.5,60,62.5,65,67.5,70],"labelExpr":"datum.value % 5 === 0 ? datum.label : ''","labelFontSize":12,"titleFontSize":17,"tickSize":4,"labelPadding":3,"titlePadding":8}},
     "y":{"field":"y","type":"quantitative","scale":{"domain":[0,1010],"nice":false,"zero":false},
      "axis":{"title":"Intensity (a.u)","labels":false,"ticks":false,"titleFontSize":17,"titlePadding":6}},
     "color":{"field":"s","type":"nominal","scale":{"domain":["3.0CPW/mZS","2.0CPW/mZS","1.5CPW/mZS","0.5CPW/mZS"],"range":["#1a8a1a","#2845e8","#f04a4a","#000000"]},
      "legend":{"title":null,"orient":"top-right","offset":0,"padding":3,"symbolType":"M-1,0H3","symbolSize":289,"labelFontSize":12,"labelOffset":20,"rowPadding":0}}
    }},
   {"data":{"values":[{"x":10.6,"y":945,"t":"(b)"}]},"mark":{"type":"text","align":"left","baseline":"middle","fontSize":16,"fontWeight":"bold","color":"#000"},
    "encoding":{"x":{"field":"x","type":"quantitative"},"y":{"field":"y","type":"quantitative"},"text":{"field":"t"}}}
  ]}
 ],"spacing":19},
{"resolve":{"scale":{"color":"independent"},"legend":{"color":"independent"}},
 "hconcat":[
 {"width":325,"height":256,
  "layer":[
   {"data":{"name":"c"},"mark":{"type":"line","strokeWidth":2,"clip":true},
    "encoding":{
     "x":{"field":"x","type":"quantitative","scale":{"domain":[470,3890],"reverse":true,"nice":false,"zero":false},
      "axis":{"title":"Wavenumber (cm⁻¹)","values":[3750,3500,3250,3000,2750,2500,2250,2000,1750,1500,1250,1000,750,500],"format":"d","labelExpr":"datum.value % 500 === 0 ? datum.label : ''","labelFontSize":11,"titleFontSize":15,"tickSize":3,"labelPadding":5,"titlePadding":6}},
     "y":{"field":"y","type":"quantitative","scale":{"domain":[0,772],"nice":false,"zero":false},
      "axis":{"title":"Intensity (a.u.)","labels":false,"ticks":false,"titleFontSize":15,"titlePadding":7}},
     "color":{"field":"s","type":"nominal","scale":{"domain":["3.0CPW/mZS","2.0CPW/mZS","1.5CPW/mZS","0.5CPW/mZS","PW/mZS","3.0CPW","HPW","mZS"],"range":["#8b1a1a","#22c8c8","#b8862b","#c07ede","#1e8c1e","#1414f0","#ff1414","#000000"]},"legend":null}
    }},
   {"data":{"name":"cp"},"mark":{"type":"rule","strokeWidth":2.5,"strokeDash":[2.5,4.5],"color":"#000"},
    "encoding":{"x":{"field":"x","type":"quantitative"},"y":{"field":"top","type":"quantitative"},"y2":{"datum":0}}},
   {"data":{"name":"cp"},"mark":{"type":"text","baseline":"middle","fontSize":11,"fontWeight":"bold","color":"#000"},
    "encoding":{"x":{"field":"x","type":"quantitative"},"y":{"field":"ly","type":"quantitative"},"text":{"field":"t"}}},
   {"data":{"name":"cl"},"mark":{"type":"text","baseline":"middle","fontSize":12,"fontWeight":"bold","color":"#000"},
    "encoding":{"x":{"field":"x","type":"quantitative"},"y":{"field":"y","type":"quantitative"},"text":{"field":"t"}}},
   {"data":{"values":[{"x":3806,"y":740,"t":"(c)"}]},"mark":{"type":"text","align":"left","baseline":"middle","fontSize":13,"fontWeight":"bold","color":"#000"},
    "encoding":{"x":{"field":"x","type":"quantitative"},"y":{"field":"y","type":"quantitative"},"text":{"field":"t"}}}
  ]},
 {"width":315,"height":252,
  "layer":[
   {"data":{"name":"d"},"mark":{"type":"line","strokeWidth":2.5,"clip":true},
    "encoding":{
     "x":{"field":"x","type":"quantitative","scale":{"domain":[445,4000],"reverse":true,"nice":false,"zero":false},
      "axis":{"title":"Wavenumber (cm⁻¹)","values":[4000,3750,3500,3250,3000,2750,2500,2250,2000,1750,1500,1250,1000,750,500],"format":"d","labelExpr":"datum.value % 500 === 0 ? datum.label : ''","labelFontSize":12,"titleFontSize":16,"tickSize":3,"labelPadding":5,"titlePadding":8}},
     "y":{"field":"y","type":"quantitative","scale":{"domain":[0,753],"nice":false,"zero":false},
      "axis":{"title":"Kubelka-Munk","labels":false,"ticks":false,"titleFontSize":15,"titlePadding":9}},
     "color":{"field":"s","type":"nominal","scale":{"domain":["mZS","1.5CPW","PW/mZS","0.5CPW/mZS","1.5CPW/mZS","2.0CPW/mZS","3.0CPW/mZS"],"range":["#505050","#f03c3c","#2a5cc0","#2ca062","#b07cdc","#d4a020","#22cccc"]},
      "legend":{"title":null,"orient":"top-left","offset":0,"padding":2,"symbolType":"M-1,0H3","symbolSize":240,"labelFontSize":12,"labelOffset":18,"rowPadding":1}}
    }},
   {"data":{"values":[{"x":513,"y":725,"t":"(d)"}]},"mark":{"type":"text","align":"right","baseline":"middle","fontSize":13,"fontWeight":"bold","color":"#000"},
    "encoding":{"x":{"field":"x","type":"quantitative"},"y":{"field":"y","type":"quantitative"},"text":{"field":"t"}}}
  ]}
 ],"spacing":20}
],
"spacing":22
}
